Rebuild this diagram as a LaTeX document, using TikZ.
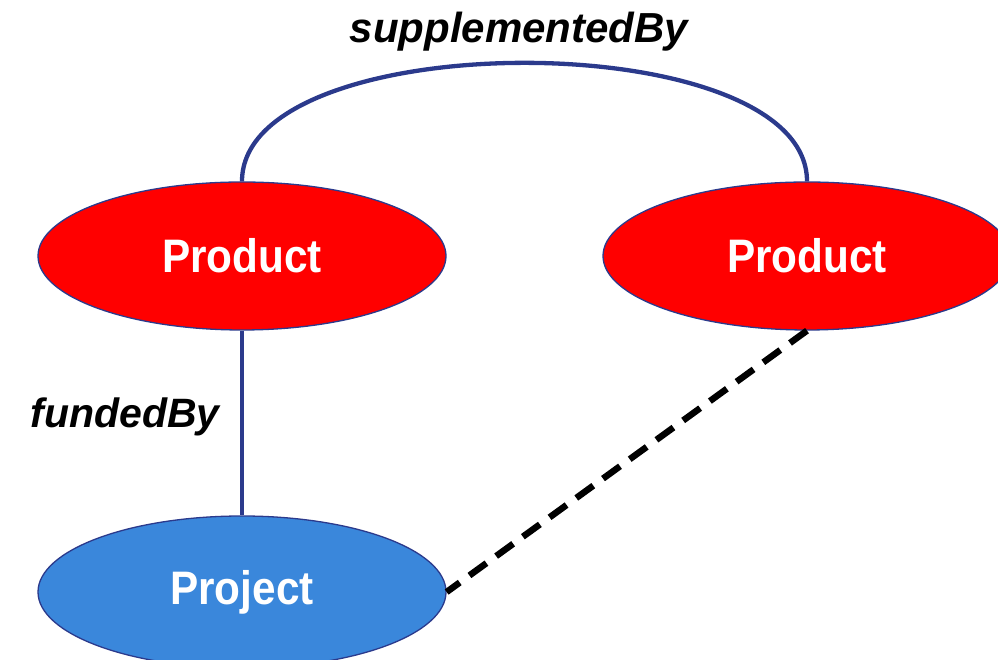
\documentclass[tikz,border=0pt]{standalone}
\usepackage{fontspec}
\setmainfont{Liberation Sans}
\usetikzlibrary{shapes.geometric}
\definecolor{prodred}{HTML}{FF0000}
\definecolor{projblue}{HTML}{3A87DB}
\definecolor{edgenavy}{HTML}{2B3A8C}
\tikzset{
  entity/.style={ellipse, draw=edgenavy, line width=1.3pt, minimum width=408pt, minimum height=148pt, inner sep=0pt,
    text=white, font=\fontsize{47}{52}\selectfont\bfseries},
  rel/.style={draw=edgenavy, line width=4.3pt},
  lbl/.style={font=\fontsize{42}{48}\selectfont\bfseries\itshape, inner sep=0pt, anchor=base},
  linkdash/.style={draw=black, line width=6.5pt, dash pattern=on 21pt off 12pt}
}
\begin{document}
\begin{tikzpicture}[x=1pt,y=1pt]
\useasboundingbox (0,0) rectangle (998,660);
\node[entity, fill=prodred] (l) at (242,404) {\scalebox{0.9}[1]{Product}};
\node[entity, fill=prodred] (r) at (807,404) {\scalebox{0.9}[1]{Product}};
\node[entity, fill=projblue, minimum height=152pt] (p) at (242,68) {\scalebox{0.9}[1]{Project}};
\draw[rel] (l.north) .. controls +(0,158) and +(0,158) .. (r.north);
\draw[rel] (l.south) -- (p.north);
\draw[linkdash] (r.south) -- (p.east);
\node[lbl] (sup) at (519,617) {supplementedBy};
\node[lbl, font=\fontsize{41}{46}\selectfont\bfseries\itshape] (fund) at (125,232) {fundedBy};
\end{tikzpicture}
\end{document}
